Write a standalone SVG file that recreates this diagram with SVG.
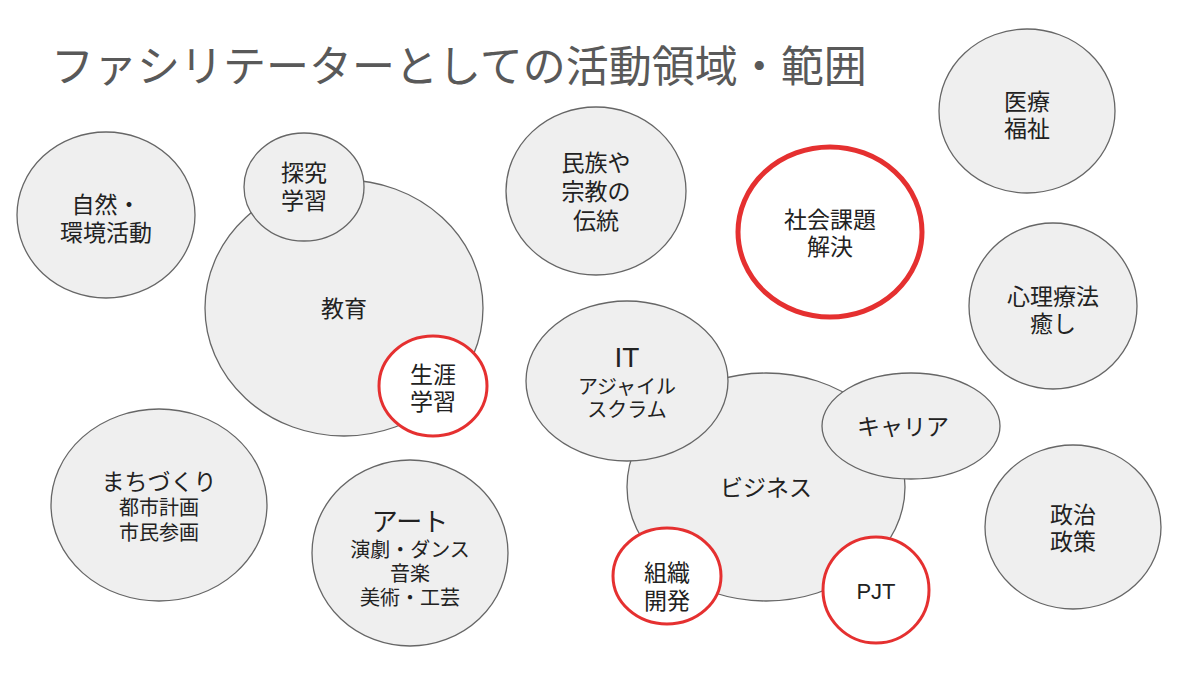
<svg xmlns="http://www.w3.org/2000/svg" width="1200" height="673" viewBox="0 0 1200 673">
<style>
.g{fill:#efefef;stroke:#666;stroke-width:1.3}
.r{fill:#fff;stroke:#e53030;stroke-width:3}
.rb{fill:#fff;stroke:#e53030;stroke-width:5}
text{font-family:"Liberation Sans","Noto Sans CJK JP",sans-serif;fill:#222;text-anchor:middle;dominant-baseline:central}
.t{font-size:23px}
.s{font-size:20px}
.title{font-size:43px;fill:#595959;text-anchor:start}
</style>
<rect width="1200" height="673" fill="#fff"/>
<text class="title" x="51" y="67">ファシリテーターとしての活動領域・範囲</text>
<g id="shizen"><ellipse class="g" cx="106" cy="215" rx="89" ry="83"/><text class="t"><tspan x="106" y="205">自然・</tspan><tspan x="106" y="233">環境活動</tspan></text></g>
<g id="kyoiku"><ellipse class="g" cx="344" cy="308" rx="139" ry="128"/><text class="t" x="344" y="309">教育</text></g>
<g id="tankyu"><ellipse class="g" cx="304" cy="187" rx="60" ry="54"/><text class="t"><tspan x="304" y="173">探究</tspan><tspan x="304" y="201">学習</tspan></text></g>
<g id="shogai"><ellipse class="r" cx="433" cy="386" rx="54" ry="50"/><text class="t"><tspan x="433" y="375">生涯</tspan><tspan x="433" y="402">学習</tspan></text></g>
<g id="minzoku"><ellipse class="g" cx="596" cy="191" rx="90" ry="84"/><text class="t"><tspan x="596" y="163">民族や</tspan><tspan x="596" y="192">宗教の</tspan><tspan x="596" y="221">伝統</tspan></text></g>
<g id="shakai"><ellipse class="rb" cx="830" cy="232" rx="92" ry="85"/><text class="t"><tspan x="830" y="220">社会課題</tspan><tspan x="830" y="247">解決</tspan></text></g>
<g id="iryo"><ellipse class="g" cx="1027" cy="111" rx="88" ry="82"/><text class="t"><tspan x="1027" y="102">医療</tspan><tspan x="1027" y="129">福祉</tspan></text></g>
<g id="shinri"><ellipse class="g" cx="1053" cy="306" rx="84" ry="83"/><text class="t"><tspan x="1053" y="297">心理療法</tspan><tspan x="1053" y="324">癒し</tspan></text></g>
<g id="seiji"><ellipse class="g" cx="1073" cy="527" rx="88" ry="82"/><text class="t"><tspan x="1073" y="515">政治</tspan><tspan x="1073" y="542">政策</tspan></text></g>
<g id="machi"><ellipse class="g" cx="159" cy="505" rx="108" ry="96"/><text><tspan class="t" x="159" y="482">まちづくり</tspan><tspan class="s" x="159" y="508">都市計画</tspan><tspan class="s" x="159" y="533">市民参画</tspan></text></g>
<g id="art"><ellipse class="g" cx="410" cy="553" rx="98" ry="93"/><text><tspan x="410" y="522" style="font-size:26px">アート</tspan><tspan class="s" x="410" y="550">演劇・ダンス</tspan><tspan class="s" x="410" y="574">音楽</tspan><tspan class="s" x="410" y="598">美術・工芸</tspan></text></g>
<g id="business"><ellipse class="g" cx="766" cy="487" rx="139" ry="114"/><text class="t" x="766" y="488">ビジネス</text></g>
<g id="it"><ellipse class="g" cx="627" cy="381" rx="101" ry="80"/><text><tspan x="627" y="357" style="font-size:28px">IT</tspan><tspan class="s" x="627" y="387">アジャイル</tspan><tspan class="s" x="627" y="410">スクラム</tspan></text></g>
<g id="career"><ellipse class="g" cx="911" cy="426" rx="89" ry="53"/><text class="t" x="903" y="427">キャリア</text></g>
<g id="soshiki"><ellipse class="r" cx="667" cy="576" rx="54" ry="48"/><text class="t"><tspan x="667" y="573">組織</tspan><tspan x="667" y="601">開発</tspan></text></g>
<g id="pjt"><ellipse class="r" cx="876" cy="590" rx="53" ry="53"/><text x="876" y="591" style="font-size:22px">PJT</text></g>
<g id="connectors"/>
</svg>
